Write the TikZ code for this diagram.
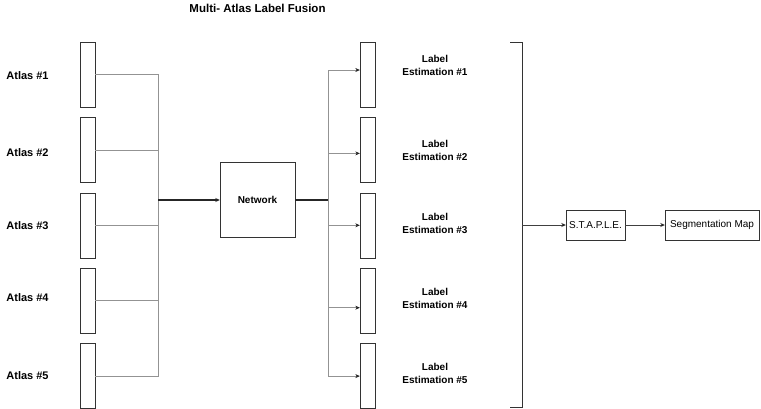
\documentclass[tikz,border=0pt]{standalone}
\usepackage{fontspec}
\setmainfont{Liberation Sans}
\usetikzlibrary{positioning,arrows.meta}
\begin{document}
\begin{tikzpicture}[x=1pt, y=-1pt, node distance={10pt},
  main/.style = {draw=black!80, rectangle, inner sep=0pt, minimum width=15pt, minimum height=65pt},
  box/.style = {draw=black!80, rectangle, inner sep=0pt, font=\fontsize{10}{12}\selectfont},
  wire/.style = {draw=gray!85, line width=0.6pt},
  bus/.style = {draw=black!85, line width=1.2pt},
  tip/.style = {-{Stealth[length=4.5pt,width=4pt,color=black!85]}},
  lbl/.style = {font=\bfseries\fontsize{11}{13}\selectfont},
  est/.style = {align=center, font=\bfseries\fontsize{10}{13}\selectfont}]
  \useasboundingbox (0,0) rectangle (761,408);
  \node[lbl] (title) at (257.5,8) {\fontsize{11.5}{13}\selectfont Multi- Atlas Label Fusion};
  % atlases
  \node[main] (a1) at (87.5,74.5) {};
  \node[main] (a2) [below=of a1] {};
  \node[main] (a3) [below=of a2] {};
  \node[main] (a4) [below=of a3] {};
  \node[main] (a5) [below=of a4] {};
  \node[lbl] (l1) at (27.5,76) {Atlas \#1};
  \node[lbl] (l2) at (27.5,153) {Atlas \#2};
  \node[lbl] (l3) at (27.5,226) {Atlas \#3};
  \node[lbl] (l4) at (27.5,298) {Atlas \#4};
  \node[lbl] (l5) at (27.5,376) {Atlas \#5};
  % network
  \node[box, minimum size=75pt, font=\bfseries\fontsize{10}{12}\selectfont] (net) at (257.5,200) {Network};
  \coordinate (jl) at (158,200);
  \coordinate (jr) at (328,200);
  \foreach \i in {1,...,5}
    \draw[wire] (a\i.east) -| (jl);
  \draw[bus,tip] (jl) -- (net.west);
  \draw[bus] (net.east) -- (jr);
  % label estimations
  \node[main] (e1) at (367.5,74.5) {};
  \node[main] (e2) [below=of e1] {};
  \node[main] (e3) [below=of e2] {};
  \node[main] (e4) [below=of e3] {};
  \node[main] (e5) [below=of e4] {};
  \foreach \i/\dy in {1/4.5,2/-3.5,3/0,4/-7,5/0}
    \draw[wire,tip] (jr) |- ([yshift=\dy pt]e\i.west);
  \node[est] (t1) at (435,65) {Label\\Estimation \#1};
  \node[est] (t2) at (435,150) {Label\\Estimation \#2};
  \node[est] (t3) at (435,223) {Label\\Estimation \#3};
  \node[est] (t4) at (435,298) {Label\\Estimation \#4};
  \node[est] (t5) at (435,373) {Label\\Estimation \#5};
  % bracket
  \draw[line width=0.9pt, black!80] (510,42) -- (522,42) -- (522,407) -- (510,407);
  \coordinate (brk) at (522,225);
  \node[box, minimum width=59pt, minimum height=30pt] (staple) at (595.5,225) {S.T.A.P.L.E.};
  \node[box, minimum width=94pt, minimum height=30pt] (seg) at (712,225) {Segmentation Map};
  \draw[wire, draw=black!75, line width=1pt, tip] (brk) -- (staple.west);
  \draw[wire, draw=black!75, line width=1pt, tip] (staple) -- (seg);
\end{tikzpicture}
\end{document}
